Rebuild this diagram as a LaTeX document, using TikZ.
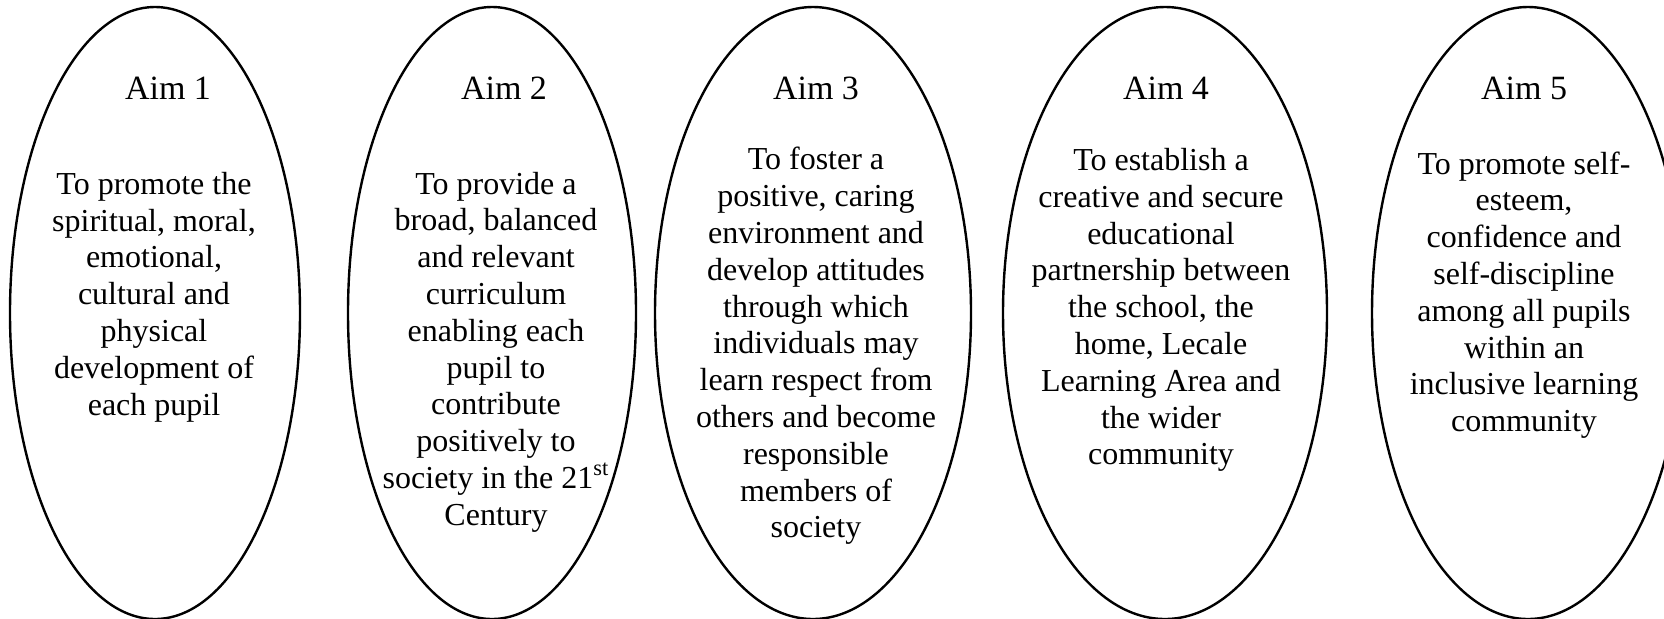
\documentclass[tikz,border=0pt]{standalone}
\usepackage{fontspec}
\setmainfont{Liberation Serif}
\usetikzlibrary{shapes,positioning}

\begin{document}
\begin{tikzpicture}[x=0.5pt,y=-0.5pt,
    oval/.style={draw,ellipse,line width=1.2pt,minimum height=306pt,inner sep=0pt},
    aimtitle/.style={font=\fontsize{17}{20}\selectfont},
    aimtext/.style={align=center,inner sep=0pt,font=\fontsize{16}{18.4}\selectfont}]
    \useasboundingbox (0,0) rectangle (1664,618);
    % Ovals
    \node[oval,minimum width=145pt] (oval1) at (155,313) {};
    \node[oval,minimum width=144pt] (oval2) at (492,313) {};
    \node[oval,minimum width=158pt] (oval3) at (813,313) {};
    \node[oval,minimum width=162pt] (oval4) at (1165,313) {};
    \node[oval,minimum width=156pt] (oval5) at (1528,313) {};
    % Titles
    \node[aimtitle] (title1) at (168,88) {Aim 1};
    \node[aimtitle] (title2) at (504,88) {Aim 2};
    \node[aimtitle] (title3) at (816,88) {Aim 3};
    \node[aimtitle] (title4) at (1166,88) {Aim 4};
    \node[aimtitle] (title5) at (1524,88) {Aim 5};
    % Aims
    \node[aimtext] (text1) at (154,297) {To promote the\\spiritual, moral,\\emotional,\\cultural and\\physical\\development of\\each pupil};
    \node[aimtext] (text2) at (496,352) {To provide a\\broad, balanced\\and relevant\\curriculum\\enabling each\\pupil to\\contribute\\positively to\\society in the 21\textsuperscript{st}\\Century};
    \node[aimtext] (text3) at (816,346) {To foster a\\positive, caring\\environment and\\develop attitudes\\through which\\individuals may\\learn respect from\\others and become\\responsible\\members of\\society};
    \node[aimtext] (text4) at (1161,310) {To establish a\\creative and secure\\educational\\partnership between\\the school, the\\home, Lecale\\Learning Area and\\the wider\\community};
    \node[aimtext] (text5) at (1524,295) {To promote self-\\esteem,\\confidence and\\self-discipline\\among all pupils\\within an\\inclusive learning\\community};
\end{tikzpicture}
\end{document}
